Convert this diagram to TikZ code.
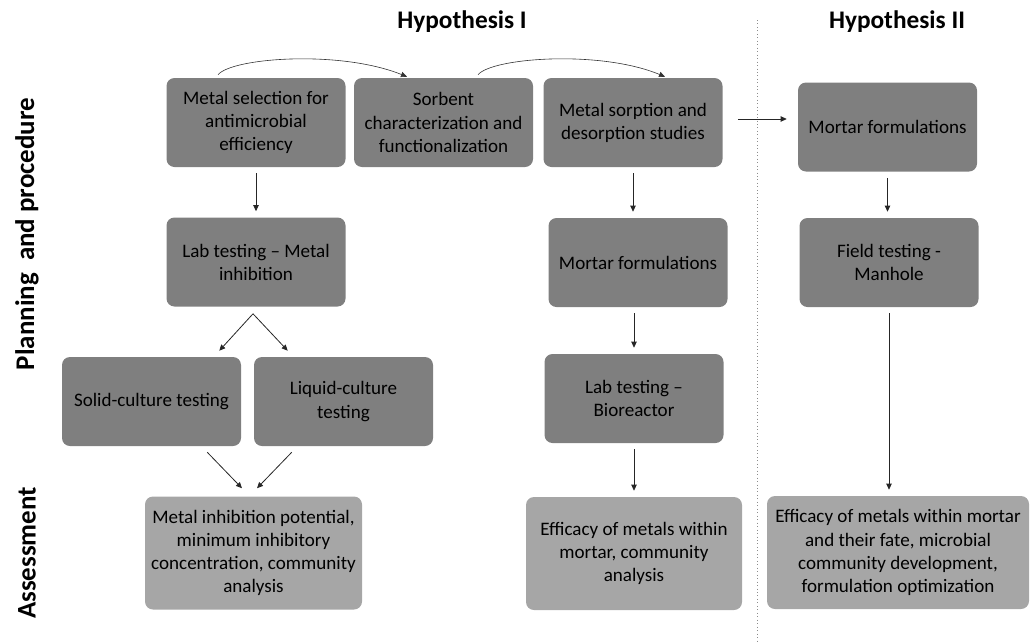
\documentclass[tikz,border=0pt]{standalone}
\usepackage{fontspec}
\setmainfont{Carlito}
\usetikzlibrary{arrows.meta,calc,positioning}
\definecolor{boxdark}{HTML}{7F7F7F}
\definecolor{boxlight}{HTML}{A6A6A6}
\newcommand{\px}{0.75pt}

\begin{document}
\begin{tikzpicture}[x=0.75pt,y=-0.75pt,
  every node/.style={font=\fontsize{14.3}{17.3}\selectfont,align=center,text=black},
  procbox/.style={fill=boxdark,rounded corners=6pt,minimum width=179*\px,minimum height=89*\px,inner sep=0pt},
  assessbox/.style={fill=boxlight,rounded corners=6pt,minimum height=113*\px,inner sep=0pt},
  heading/.style={font=\fontsize{19}{23}\selectfont\bfseries},
  sidelabel/.style={font=\fontsize{20.2}{24}\selectfont\bfseries,rotate=90},
  arr/.style={-{Triangle[length=4.5pt,width=4pt]},line width=0.6pt,draw=black!85},
  gap/.style={shorten >=4.5pt,shorten <=4.5pt},
  curvearr/.style={-{Triangle[length=4.5pt,width=4pt]},line width=0.45pt,draw=black!80},
]
\useasboundingbox (0,0) rectangle (1031,643);

% the headings
\node[heading] (hypI) at (462,22) {Hypothesis I};
\node[heading] (hypII) at (897,22) {Hypothesis II};
\node[sidelabel] (planning) at (27,234) {Planning~~and procedure};
\node[sidelabel] (assessment) at (27,553) {Assessment};

% the divider
\coordinate (divtop) at (757,20);
\coordinate (divbot) at (757,643);
\draw[black!45,dotted,line width=0.6pt] (divtop) -- (divbot);

% the procedure boxes
\node[procbox] (mselect) at (256,122.5) {Metal selection for\\antimicrobial\\efficiency};
\node[procbox] (sorbent) at (443.5,122.5) {Sorbent\\characterization and\\functionalization};
\node[procbox] (sorption) at (633,122.5) {Metal sorption and\\desorption studies};
\node[procbox] (mortarII) at (887.5,127) {Mortar formulations};
\node[procbox] (labinhib) at (256,262) {Lab testing – Metal\\inhibition};
\node[procbox] (mortarI) at (638,262.5) {Mortar formulations};
\node[procbox] (field) at (889,262.5) {Field testing -\\Manhole};
\node[procbox] (solid) at (151.5,401.5) {Solid-culture testing};
\node[procbox] (liquid) at (343.5,401.5) {Liquid-culture\\testing};
\node[procbox] (bioreactor) at (634,398.5) {Lab testing –\\Bioreactor};

% the assessment boxes
\node[assessbox,minimum width=217*\px] (assessI) at (253.5,553) {Metal inhibition potential,\\minimum inhibitory\\concentration, community\\analysis};
\node[assessbox,minimum width=216*\px] (assessII) at (634,553.5) {Efficacy of metals within\\mortar, community\\analysis};
\node[assessbox,minimum width=262*\px] (assessIII) at (898,552.5) {Efficacy of metals within mortar\\and their fate, microbial\\community development,\\formulation optimization};

% the curved arrows on top
\draw[curvearr] ($(mselect.north)+(-38,-3)$) .. controls ($(mselect.north)+(-24,-20)$) and ($(sorbent.north)+(-103.5,-28)$) .. ($(sorbent.north)+(-36.5,-1)$);
\draw[curvearr] ($(sorbent.north)+(34.5,-3)$) .. controls ($(sorbent.north)+(48.5,-20)$) and ($(sorption.north)+(-33,-28)$) .. ($(sorption.north)+(32,-1)$);

% the straight arrows
\foreach \a/\b in {mselect/labinhib,sorption/mortarI,mortarII/field,bioreactor/assessII,field/assessIII}
  \draw[arr,gap] (\a.south) -- (\a.south |- \b.north);
\draw[arr,gap] (bioreactor.north |- mortarI.south) -- (bioreactor.north);
\draw[arr,shorten >=8.25pt] ($(sorption.east)+(15,-3.5)$) -- ($(mortarII.west)+(0,-8)$);

% split and merge
\coordinate (esplit) at ($(labinhib.south)+(-3,7)$);
\draw[arr] (esplit) -- ($(solid.north east)+(-22,-6)$);
\draw[arr] (esplit) -- ($(liquid.north west)+(34,-6)$);
\draw[arr] ($(solid.south east)+(-34,6)$) -- ($(assessI.north)+(-11.5,-8)$);
\draw[arr] ($(liquid.south west)+(38,6)$) -- ($(assessI.north)+(3.5,-8)$);
\end{tikzpicture}
\end{document}
